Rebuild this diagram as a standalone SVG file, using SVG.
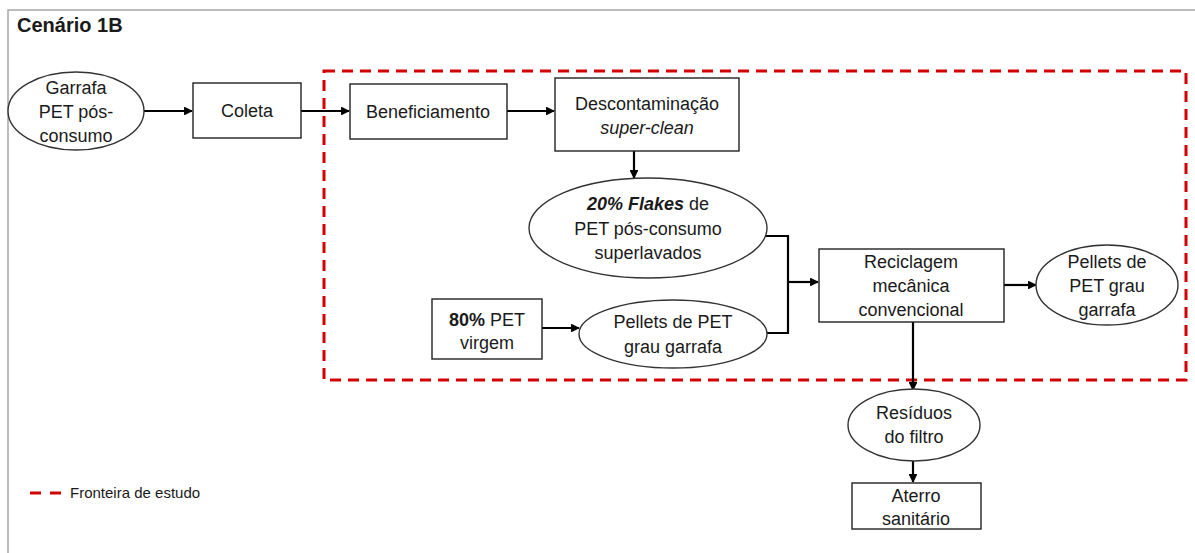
<svg xmlns="http://www.w3.org/2000/svg" width="1195" height="553" viewBox="0 0 1195 553">
  <style>
    text { font-family: "Liberation Sans", Arial, sans-serif; font-size: 18px; fill: #1a1a1a; text-anchor: middle; }
    .box { fill: #fff; stroke: #222; stroke-width: 1.4; }
    .oval { fill: #fff; stroke: #333; stroke-width: 1.4; }
    .link { fill: none; stroke: #000; stroke-width: 2.2; }
    .boundary { fill: none; stroke: #d40000; stroke-width: 3; stroke-dasharray: 11 7; }
    .frame { fill: none; stroke: #a6a6a6; stroke-width: 1.5; }
    .b { font-weight: bold; }
    .i { font-style: italic; }
  </style>
  <defs>
    <marker id="arrow" viewBox="0 0 10 10" refX="9" refY="5" markerWidth="4" markerHeight="4" orient="auto">
      <path d="M0,0 L10,5 L0,10 z" fill="#000"/>
    </marker>
  </defs>

  <rect width="1195" height="553" fill="#fff"/>
  <!-- outer frame (open at right and bottom) -->
  <path class="frame" d="M8,553 V10 H1195"/>
  <text x="17" y="32" class="b" style="text-anchor:start;font-size:20px">Cenário 1B</text>

  <!-- study boundary -->
  <rect class="boundary" x="324" y="71" width="862" height="309"/>

  <!-- connectors -->
  <g id="connectors">
    <line class="link" x1="144" y1="111" x2="192" y2="111" marker-end="url(#arrow)"/>
    <line class="link" x1="301" y1="111" x2="349" y2="111" marker-end="url(#arrow)"/>
    <line class="link" x1="507" y1="111" x2="554" y2="111" marker-end="url(#arrow)"/>
    <line class="link" x1="634" y1="151" x2="634" y2="178" marker-end="url(#arrow)"/>
    <polyline class="link" points="766,236 788,236 788,333 767,333"/>
    <line class="link" x1="788" y1="282" x2="818" y2="282" marker-end="url(#arrow)"/>
    <line class="link" x1="542" y1="328" x2="579" y2="328" marker-end="url(#arrow)"/>
    <line class="link" x1="1004" y1="285" x2="1036" y2="285" marker-end="url(#arrow)"/>
    <line class="link" x1="913" y1="322" x2="913" y2="390" marker-end="url(#arrow)"/>
    <line class="link" x1="913" y1="461" x2="913" y2="482" marker-end="url(#arrow)"/>
  </g>

  <g id="garrafa">
    <ellipse class="oval" cx="76" cy="111" rx="68" ry="39"/>
    <text x="76" y="94">Garrafa</text>
    <text x="76" y="118">PET pós-</text>
    <text x="76" y="142">consumo</text>
  </g>

  <g id="coleta">
    <rect class="box" x="193" y="83" width="108" height="55"/>
    <text x="247" y="117">Coleta</text>
  </g>

  <g id="beneficiamento">
    <rect class="box" x="350" y="84" width="157" height="55"/>
    <text x="428" y="118">Beneficiamento</text>
  </g>

  <g id="descontaminacao">
    <rect class="box" x="555" y="78" width="184" height="73"/>
    <text x="647" y="110">Descontaminação</text>
    <text x="647" y="134" class="i">super-clean</text>
  </g>

  <g id="flakes">
    <ellipse class="oval" cx="648" cy="228" rx="119" ry="50"/>
    <text x="648" y="210"><tspan class="b i">20% Flakes</tspan> de</text>
    <text x="648" y="235">PET pós-consumo</text>
    <text x="648" y="259">superlavados</text>
  </g>

  <g id="pet-virgem">
    <rect class="box" x="432" y="299" width="110" height="60"/>
    <text x="487" y="326"><tspan class="b">80%</tspan> PET</text>
    <text x="487" y="349">virgem</text>
  </g>

  <g id="pellets-entrada">
    <ellipse class="oval" cx="673" cy="334" rx="94" ry="34"/>
    <text x="673" y="328">Pellets de PET</text>
    <text x="673" y="353">grau garrafa</text>
  </g>

  <g id="reciclagem">
    <rect class="box" x="819" y="249" width="185" height="73"/>
    <text x="911" y="268">Reciclagem</text>
    <text x="911" y="292">mecânica</text>
    <text x="911" y="316">convencional</text>
  </g>

  <g id="pellets-saida">
    <ellipse class="oval" cx="1107" cy="285" rx="71" ry="40"/>
    <text x="1107" y="268">Pellets de</text>
    <text x="1107" y="292">PET grau</text>
    <text x="1107" y="316">garrafa</text>
  </g>

  <g id="residuos">
    <ellipse class="oval" cx="914" cy="425" rx="66" ry="36"/>
    <text x="914" y="419">Resíduos</text>
    <text x="914" y="443">do filtro</text>
  </g>

  <g id="aterro">
    <rect class="box" x="852" y="483" width="129" height="46"/>
    <text x="916" y="502">Aterro</text>
    <text x="916" y="525">sanitário</text>
  </g>

  <!-- legend -->
  <g id="legend">
    <line x1="30" y1="493" x2="61" y2="493" stroke="#d40000" stroke-width="3" stroke-dasharray="11 9"/>
    <text x="70" y="498" style="text-anchor:start;font-size:15px">Fronteira de estudo</text>
  </g>
</svg>
